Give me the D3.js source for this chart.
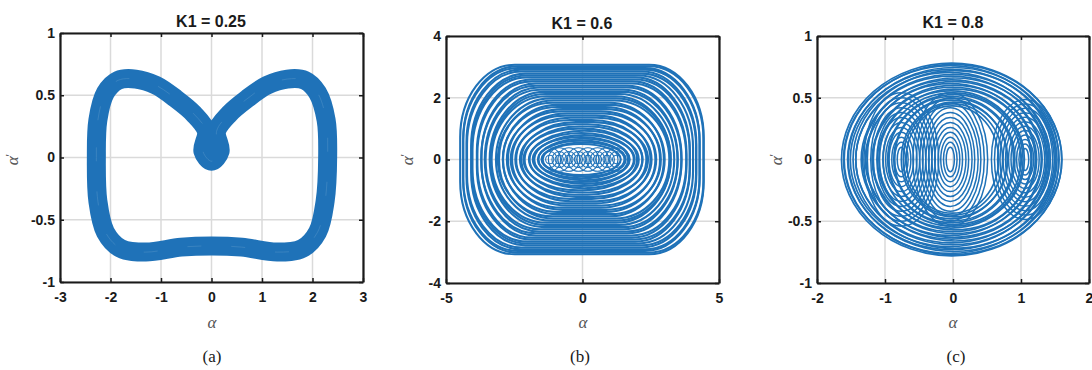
<!DOCTYPE html>
<meta charset="utf-8" />
<style>
  body { margin: 0; background: #fff; }
  text { fill: #1a1a1a; }
</style>
<svg width="1092" height="370"></svg>
<script src="https://d3js.org/d3.v7.min.js"></script>
<script>
    var svg = d3.select("svg");
    var blue = "#1f72b8";

    // titles, captions and ticks
    var titles = ["K1 = 0.25", "K1 = 0.6", "K1 = 0.8"];
    var captions = ["(a)", "(b)", "(c)"];
    var xTicksA = [-3, -2, -1, 0, 1, 2, 3];
    var yTicksA = [-1, -0.5, 0, 0.5, 1];
    var xTicksB = [-5, 0, 5];
    var yTicksB = [-4, -2, 0, 2, 4];
    var xTicksC = [-2, -1, 0, 1, 2];
    var yTicksC = [-1, -0.5, 0, 0.5, 1];

    // (a) centre line of the heart shaped orbit band
    var alphaA = [-2.28, -2.25, -2.1, -1.85, -1.5, -1.1, -0.7, -0.35, -0.1, -0.17, 0, 0.17, 0.1, 0.35, 0.7, 1.1, 1.5, 1.85, 2.1, 2.27,
        2.3, 2.25, 2.1, 1.8, 1.3, 0.6, 0, -0.6, -1.3, -1.8, -2.1, -2.25];
    var dalphaA = [0, 0.3, 0.52, 0.62, 0.63, 0.58, 0.47, 0.35, 0.21, 0.05, -0.03, 0.05, 0.21, 0.35, 0.47, 0.58, 0.63, 0.62, 0.52, 0.3,
        0, -0.35, -0.6, -0.73, -0.76, -0.72, -0.71, -0.72, -0.76, -0.73, -0.6, -0.35];

    // (b) nested rounded orbits: half width, half height, centre shift
    var ringWB = [4.46, 4.4, 4.33, 4.27, 4.2, 4.12, 4.05, 3.98, 3.9, 3.83, 3.75, 3.67, 3.6, 3.52, 3.44, 3.36, 3.28, 3.2, 3.12, 3.04,
        2.96, 2.88, 2.8, 2.72, 2.64, 2.56, 2.48, 2.4, 2.32, 2.24, 2.16, 2.08, 2.0, 1.92, 1.84, 1.76, 1.68, 1.6, 1.52, 1.45];
    var ringHB = [3.07, 3.02, 2.96, 2.91, 2.85, 2.78, 2.72, 2.66, 2.59, 2.53, 2.46, 2.39, 2.33, 2.26, 2.19, 2.12, 2.05, 1.98, 1.91, 1.84,
        1.77, 1.7, 1.63, 1.56, 1.49, 1.42, 1.35, 1.28, 1.21, 1.14, 1.07, 1.0, 0.93, 0.86, 0.79, 0.73, 0.67, 0.61, 0.55, 0.5];
    var ringCxB = [-0.02, 0.03, -0.04, 0.02, -0.03, 0.04, 0, -0.05, 0.03, -0.02, 0.05, -0.04, 0.02, -0.03, 0.04, 0, -0.05, 0.03, 0.06, -0.06,
        0.05, -0.04, 0.07, -0.05, 0.06, -0.07, 0.05, -0.06, 0.08, -0.05, 0.04, -0.08, 0.06, -0.04, 0.07, -0.06, 0.05, -0.03, 0.06, -0.05];
    var smallCxB = [-1.2, -0.85, -0.5, -0.15, 0.2, 0.55, 0.9, 1.25];
    var smallRxB = [0.15, 0.27, 0.4];
    var smallRyB = [0.14, 0.26, 0.38];

    // (c) outer orbits and three families of inner loops
    var bigRxC = [1.62, 1.6, 1.57, 1.55, 1.52, 1.49, 1.46, 1.43, 1.4, 1.36, 1.33, 1.29, 1.25, 1.21, 1.17, 1.12, 1.08, 1.03, 0.98, 0.93,
        0.88, 0.83, 0.78, 0.73, 0.68];
    var bigRyC = [0.78, 0.77, 0.76, 0.745, 0.73, 0.72, 0.705, 0.69, 0.675, 0.66, 0.645, 0.63, 0.615, 0.6, 0.585, 0.57, 0.555, 0.54, 0.525, 0.51,
        0.495, 0.48, 0.465, 0.45, 0.435];
    var bigCxC = [-0.02, 0.0, -0.04, 0.01, -0.03, 0.02, -0.05, 0.0, -0.03, 0.03, -0.02, 0.01, -0.04, 0.02, -0.01, 0.03, -0.03, 0.0,
        0.02, -0.02, 0.01, -0.03, 0.02, 0.0, -0.01];
    var lobeCxC = [-0.76, -0.04, 1.06];
    var lobeSizeC = [1, 1, 0.9];
    var lobeRxC = [0.06, 0.1, 0.14, 0.18, 0.23, 0.27, 0.32, 0.36, 0.41, 0.45, 0.5, 0.55];
    var lobeRyC = [0.1, 0.14, 0.18, 0.22, 0.26, 0.3, 0.34, 0.38, 0.42, 0.46, 0.5, 0.54];

    var panels = [
        { left: 60, right: 363, top: 33, bottom: 282, xd: [-3, 3], yd: [-1, 1], xt: xTicksA, yt: yTicksA, tx: 211, ty: 27, lx: 18, ax: 212, cx: 212 },
        { left: 446, right: 719, top: 36, bottom: 283, xd: [-5, 5], yd: [-4, 4], xt: xTicksB, yt: yTicksB, tx: 582, ty: 29, lx: 413, ax: 583, cx: 580 },
        { left: 817, right: 1089, top: 36, bottom: 283, xd: [-2, 2], yd: [-1, 1], xt: xTicksC, yt: yTicksC, tx: 953, ty: 28, lx: 782, ax: 953, cx: 956 }
    ];

    panels.forEach(function (p, i) {
        p.x = d3.scaleLinear().domain(p.xd).range([p.left, p.right]);
        p.y = d3.scaleLinear().domain(p.yd).range([p.bottom, p.top]);
        var g = svg.append("g");
        p.g = g;

        // grid
        g.selectAll(".gx").data(p.xt).enter().append("line")
            .attr("x1", d => p.x(d)).attr("x2", d => p.x(d))
            .attr("y1", p.top).attr("y2", p.bottom)
            .attr("stroke", "#dadada").attr("stroke-width", 1.5);
        g.selectAll(".gy").data(p.yt).enter().append("line")
            .attr("y1", d => p.y(d)).attr("y2", d => p.y(d))
            .attr("x1", p.left).attr("x2", p.right)
            .attr("stroke", "#dadada").attr("stroke-width", 1.5);

        p.plot = g.append("g");

        // title
        g.append("text").attr("x", p.tx).attr("y", p.ty)
            .attr("text-anchor", "middle")
            .style("font", "bold 16px 'Liberation Sans', Arial, sans-serif")
            .text(titles[i]);
        // axis labels
        g.append("text").attr("x", p.ax).attr("y", 328)
            .attr("text-anchor", "middle")
            .style("font", "italic 17px 'Liberation Serif', 'Times New Roman', serif")
            .style("fill", "#555")
            .text("α");
        var yl = g.append("text")
            .attr("transform", "translate(" + p.lx + ",160) rotate(-90)")
            .attr("text-anchor", "middle")
            .style("font", "italic 17px 'Liberation Serif', 'Times New Roman', serif")
            .style("fill", "#555");
        yl.append("tspan").text("α");
        yl.append("tspan").attr("dy", -4).attr("dx", -1).style("font-size", "13px").text("'");
        // caption
        g.append("text").attr("x", p.cx).attr("y", 362)
            .attr("text-anchor", "middle")
            .style("font", "17px 'Liberation Serif', 'Times New Roman', serif")
            .text(captions[i]);
    });

    // (a)
    var pA = panels[0];
    var ptsA = alphaA.map((a, i) => [a, dalphaA[i]]);
    var lineA = d3.line().x(d => pA.x(d[0])).y(d => pA.y(d[1])).curve(d3.curveCatmullRomClosed.alpha(0.5));
    pA.plot.append("path").attr("d", lineA(ptsA))
        .attr("fill", "none").attr("stroke", blue).attr("stroke-width", 19).attr("stroke-linejoin", "round");
    pA.plot.append("path").attr("d", lineA(ptsA))
        .attr("fill", "none").attr("stroke", "#4d8fc6").attr("stroke-width", 0.8).attr("stroke-dasharray", "14 30").attr("opacity", 0.7);

    // (b)
    var pB = panels[1];
    var kxB = pB.x(1) - pB.x(0), kyB = pB.y(0) - pB.y(1);
    pB.plot.selectAll("rect.ring").data(ringWB).enter().append("rect")
        .attr("x", (w, i) => pB.x(ringCxB[i] - w))
        .attr("y", (w, i) => pB.y(ringHB[i]))
        .attr("width", w => 2 * w * kxB)
        .attr("height", (w, i) => 2 * ringHB[i] * kyB)
        .attr("rx", w => Math.min(w, 2.0) * kxB)
        .attr("ry", (w, i) => Math.min(ringHB[i], 2.35) * kyB)
        .attr("fill", "none").attr("stroke", blue).attr("stroke-width", 2.1);
    smallCxB.forEach(function (c) {
        pB.plot.selectAll(null).data(smallRxB).enter().append("ellipse")
            .attr("cx", pB.x(c)).attr("cy", pB.y(0))
            .attr("rx", r => r * kxB)
            .attr("ry", (r, i) => smallRyB[i] * kyB)
            .attr("fill", "none").attr("stroke", blue).attr("stroke-width", 1.1);
    });

    // (c)
    var pC = panels[2];
    var kxC = pC.x(1) - pC.x(0), kyC = pC.y(0) - pC.y(1);
    pC.plot.selectAll("ellipse.big").data(bigRxC).enter().append("ellipse")
        .attr("cx", (r, i) => pC.x(bigCxC[i])).attr("cy", pC.y(0))
        .attr("rx", r => r * kxC)
        .attr("ry", (r, i) => bigRyC[i] * kyC)
        .attr("fill", "none").attr("stroke", blue).attr("stroke-width", 1.7);
    lobeCxC.forEach(function (c, j) {
        pC.plot.selectAll(null).data(lobeRxC).enter().append("ellipse")
            .attr("cx", pC.x(c)).attr("cy", pC.y(0))
            .attr("rx", r => r * lobeSizeC[j] * kxC)
            .attr("ry", (r, i) => lobeRyC[i] * lobeSizeC[j] * kyC)
            .attr("fill", "none").attr("stroke", blue).attr("stroke-width", 1.5);
    });

    // axes drawn last, MATLAB style box with inward ticks
    panels.forEach(function (p) {
        var fmt = d => String(d);
        var font = "bold 14px 'Liberation Sans', Arial, sans-serif";
        var ax = [
            [d3.axisBottom(p.x).tickValues(p.xt).tickFormat(fmt).tickPadding(10), 0, p.bottom],
            [d3.axisTop(p.x).tickValues(p.xt).tickFormat(""), 0, p.top],
            [d3.axisLeft(p.y).tickValues(p.yt).tickFormat(fmt).tickPadding(5), p.left, 0],
            [d3.axisRight(p.y).tickValues(p.yt).tickFormat(""), p.right, 0]
        ];
        ax.forEach(function (a) {
            var gg = p.g.append("g")
                .attr("transform", "translate(" + a[1] + "," + a[2] + ")")
                .call(a[0].tickSizeInner(-4).tickSizeOuter(0));
            gg.select(".domain").attr("stroke", "#1a1a1a").attr("stroke-width", 2.2);
            gg.selectAll(".tick line").attr("stroke", "#1a1a1a").attr("stroke-width", 1.5);
            gg.selectAll(".tick text").style("font", font).attr("fill", "#1a1a1a");
        });
    });
</script>
